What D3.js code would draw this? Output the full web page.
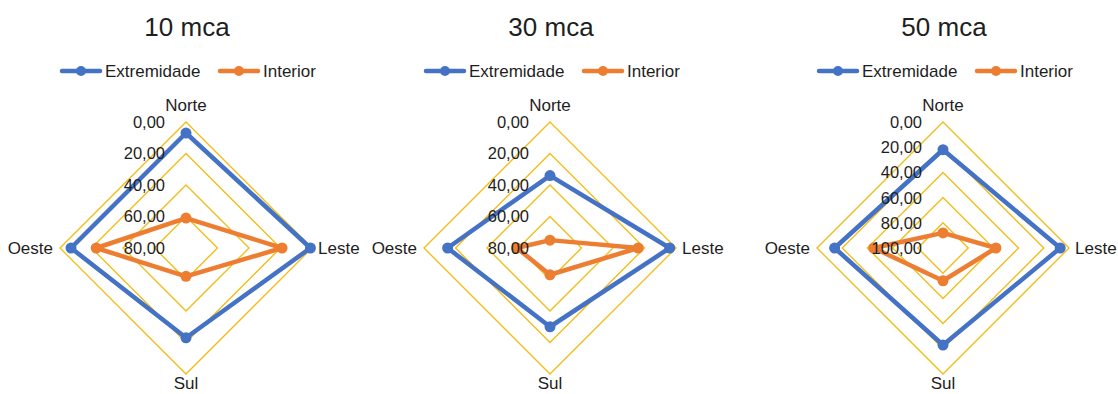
<!DOCTYPE html>
<html>
<head>
<meta charset="utf-8">
<script src="https://cdn.jsdelivr.net/npm/d3@7"></script>
<style>
  html, body { margin: 0; padding: 0; background: #ffffff; }
  svg { display: block; }
  text { font-family: "Liberation Sans", Arial, sans-serif; fill: #1e1e1e; }
</style>
</head>
<body>
<svg id="chart" width="1118" height="394"></svg>
<script>
// Pressão nos pontos cardeais (escala invertida: 0 na borda externa)
const directions = ["Norte", "Leste", "Sul", "Oeste"];
const seriesNames = ["Extremidade", "Interior"];
const panelTitles = ["10 mca", "30 mca", "50 mca"];

const extremidade10 = [7, 1, 23, 7];
const interior10 = [61, 19, 62, 23];
const extremidade30 = [34, 4, 30, 15];
const interior30 = [75, 24, 63, 59];
const extremidade50 = [22, 7, 23, 14];
const interior50 = [88, 58, 74, 45];

const ticks10 = [0, 20, 40, 60, 80];
const ticks30 = [0, 20, 40, 60, 80];
const ticks50 = [0, 20, 40, 60, 80, 100];

const panels = [
  { title: panelTitles[0], ext: extremidade10, int: interior10, ticks: ticks10, cx: 186 },
  { title: panelTitles[1], ext: extremidade30, int: interior30, ticks: ticks30, cx: 550 },
  { title: panelTitles[2], ext: extremidade50, int: interior50, ticks: ticks50, cx: 943 }
];

const colors = { Extremidade: "#4472C4", Interior: "#ED7D31" };
const gridColor = "#F2BE1A";
const R = 126, cy = 248;

const ptBR = d3.formatLocale({ decimal: ",", thousands: ".", grouping: [3], currency: ["R$", ""] });
const fmt = ptBR.format(".2f");

const svg = d3.select("#chart");

// angle for each direction, clockwise from the top
const angleOf = d => -Math.PI / 2 + directions.indexOf(d) * (Math.PI / 2);

panels.forEach(p => {
  const maxV = d3.max(p.ticks);
  const r = d3.scaleLinear().domain([0, maxV]).range([R, 0]);
  const g = svg.append("g").attr("transform", `translate(${p.cx},${cy})`);

  const pt = (dir, v) => {
    const a = angleOf(dir);
    return [Math.cos(a) * r(v), Math.sin(a) * r(v)];
  };

  // title
  svg.append("text")
    .attr("x", p.cx + 1).attr("y", 36)
    .attr("text-anchor", "middle")
    .style("font-size", "26px")
    .text(p.title);

  // legend
  const leg = svg.append("g").attr("transform", `translate(${p.cx - 124},71)`);
  const legItems = [
    { name: seriesNames[0], x: 0 },
    { name: seriesNames[1], x: 158 }
  ];
  legItems.forEach(it => {
    const lg = leg.append("g").attr("transform", `translate(${it.x},0)`);
    lg.append("line").attr("x1", 0).attr("x2", 38).attr("y1", 0).attr("y2", 0)
      .attr("stroke", colors[it.name]).attr("stroke-width", 4.5).attr("stroke-linecap", "round");
    lg.append("circle").attr("cx", 19).attr("cy", 0).attr("r", 5).attr("fill", colors[it.name]);
    lg.append("text").attr("x", 43).attr("y", 6).style("font-size", "17px").text(it.name);
  });

  // grid rings (diamonds)
  const rings = p.ticks.filter(t => t < maxV);
  const ringLine = d3.line();
  g.selectAll("path.ring").data(rings).join("path")
    .attr("class", "ring")
    .attr("d", t => ringLine(directions.map(d => pt(d, t))) + "Z")
    .attr("fill", "none")
    .attr("stroke", gridColor)
    .attr("stroke-width", 1.4);

  // series
  const series = [
    { name: "Extremidade", values: p.ext },
    { name: "Interior", values: p.int }
  ];
  series.forEach(s => {
    const pts = directions.map((d, i) => pt(d, s.values[i]));
    g.append("path")
      .attr("d", ringLine(pts) + "Z")
      .attr("fill", "none")
      .attr("stroke", colors[s.name])
      .attr("stroke-width", 4.5)
      .attr("stroke-linejoin", "round");
    g.selectAll(null).data(pts).join("circle")
      .attr("cx", d => d[0]).attr("cy", d => d[1])
      .attr("r", 5.5).attr("fill", colors[s.name]);
  });

  // tick labels on the north axis
  g.selectAll("text.tick").data(p.ticks).join("text")
    .attr("class", "tick")
    .attr("x", -21)
    .attr("y", t => -r(t))
    .attr("dy", "0.36em")
    .attr("text-anchor", "end")
    .style("font-size", "16.5px")
    .text(t => fmt(t));

  // direction labels
  const labelPos = {
    Norte: { x: 0, y: -R - 11, anchor: "middle" },
    Leste: { x: R + 6, y: 6, anchor: "start" },
    Sul: { x: 0, y: R + 15, anchor: "middle" },
    Oeste: { x: -R - 7, y: 6, anchor: "end" }
  };
  directions.forEach(d => {
    const lp = labelPos[d];
    g.append("text")
      .attr("x", lp.x).attr("y", lp.y)
      .attr("text-anchor", lp.anchor)
      .style("font-size", "17px")
      .text(d);
  });
});
</script>
</body>
</html>
